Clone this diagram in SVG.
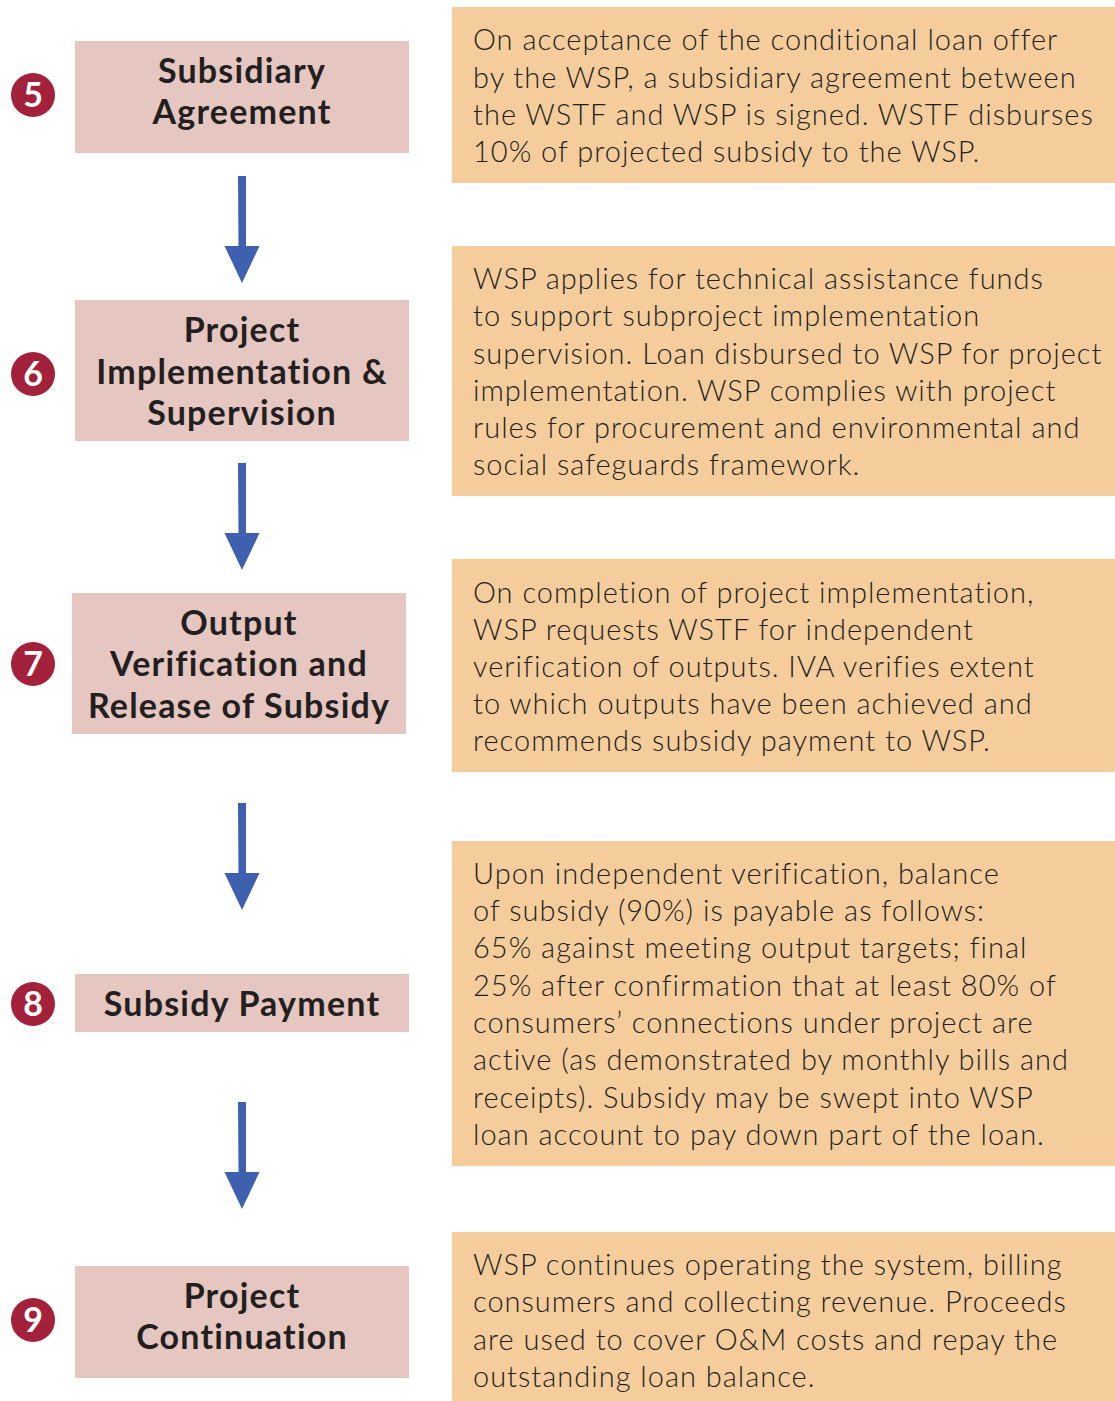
<svg xmlns="http://www.w3.org/2000/svg" width="1115" height="1401" viewBox="0 0 1115 1401">
<defs>
<style>
.step{fill:#E5C6C0}
.desc{fill:#F5CD9C}
.num{fill:#A3213A}
.numt{fill:#fff;font-family:Lato,"Liberation Sans",sans-serif;font-weight:700;font-size:34px;text-anchor:middle}
.head{fill:#231f20;font-family:Lato,"Liberation Sans",sans-serif;font-weight:700;font-size:34px;letter-spacing:1.2px;text-anchor:middle}
.body{fill:#231f20;font-family:Lato,"Liberation Sans",sans-serif;font-weight:300;font-size:29px;letter-spacing:1px}
.arr{fill:#3F60AE}
</style>
</defs>
<rect width="1115" height="1401" fill="#fff"/>
<g id="connectors">
<path class="arr" d="M238 176h8v70h13.5l-17.5 37l-17.5-37h14z"/>
<path class="arr" d="M238 463h8v70h13.5l-17.5 37l-17.5-37h14z"/>
<path class="arr" d="M238 803h8v70h13.5l-17.5 37l-17.5-37h14z"/>
<path class="arr" d="M238 1102h8v70h13.5l-17.5 37l-17.5-37h14z"/>
</g>
<g id="step5">
<circle class="num" cx="33" cy="95" r="22"/><text class="numt" x="33" y="107">5</text>
<rect class="step" x="75" y="41" width="334" height="112"/>
<text class="head" x="242" y="83">Subsidiary</text>
<text class="head" x="242" y="124">Agreement</text>
</g>
<g id="desc5">
<rect class="desc" x="452" y="7" width="663" height="176"/>
<text class="body" x="473" y="50">On acceptance of the conditional loan offer</text>
<text class="body" x="473" y="88">by the WSP, a subsidiary agreement between</text>
<text class="body" x="473" y="125">the WSTF and WSP is signed. WSTF disburses</text>
<text class="body" x="473" y="162">10% of projected subsidy to the WSP.</text>
</g>
<g id="step6">
<circle class="num" cx="33" cy="374" r="22"/><text class="numt" x="33" y="386">6</text>
<rect class="step" x="75" y="300" width="334" height="141"/>
<text class="head" x="242" y="342">Project</text>
<text class="head" x="242" y="384">Implementation &amp;</text>
<text class="head" x="242" y="425">Supervision</text>
</g>
<g id="desc6">
<rect class="desc" x="452" y="246" width="663" height="250"/>
<text class="body" x="473" y="289">WSP applies for technical assistance funds</text>
<text class="body" x="473" y="326">to support subproject implementation</text>
<text class="body" x="473" y="364">supervision. Loan disbursed to WSP for project</text>
<text class="body" x="473" y="401">implementation. WSP complies with project</text>
<text class="body" x="473" y="438">rules for procurement and environmental and</text>
<text class="body" x="473" y="475">social safeguards framework.</text>
</g>
<g id="step7">
<circle class="num" cx="33" cy="664" r="22"/><text class="numt" x="33" y="676">7</text>
<rect class="step" x="72" y="593" width="334" height="141"/>
<text class="head" x="239" y="635">Output</text>
<text class="head" x="239" y="676">Verification and</text>
<text class="head" x="239" y="718">Release of Subsidy</text>
</g>
<g id="desc7">
<rect class="desc" x="452" y="559" width="663" height="213"/>
<text class="body" x="473" y="603">On completion of project implementation,</text>
<text class="body" x="473" y="640">WSP requests WSTF for independent</text>
<text class="body" x="473" y="677">verification of outputs. IVA verifies extent</text>
<text class="body" x="473" y="714">to which outputs have been achieved and</text>
<text class="body" x="473" y="751">recommends subsidy payment to WSP.</text>
</g>
<g id="step8">
<circle class="num" cx="33" cy="1004" r="22"/><text class="numt" x="33" y="1016">8</text>
<rect class="step" x="75" y="974" width="334" height="58"/>
<text class="head" x="242" y="1016">Subsidy Payment</text>
</g>
<g id="desc8">
<rect class="desc" x="452" y="841" width="663" height="325"/>
<text class="body" x="473" y="884">Upon independent verification, balance</text>
<text class="body" x="473" y="921">of subsidy (90%) is payable as follows:</text>
<text class="body" x="473" y="958">65% against meeting output targets; final</text>
<text class="body" x="473" y="996">25% after confirmation that at least 80% of</text>
<text class="body" x="473" y="1033">consumers’ connections under project are</text>
<text class="body" x="473" y="1070">active (as demonstrated by monthly bills and</text>
<text class="body" x="473" y="1108">receipts). Subsidy may be swept into WSP</text>
<text class="body" x="473" y="1145">loan account to pay down part of the loan.</text>
</g>
<g id="step9">
<circle class="num" cx="33" cy="1320" r="22"/><text class="numt" x="33" y="1332">9</text>
<rect class="step" x="75" y="1266" width="334" height="112"/>
<text class="head" x="242" y="1308">Project</text>
<text class="head" x="242" y="1349">Continuation</text>
</g>
<g id="desc9">
<rect class="desc" x="452" y="1232" width="663" height="169"/>
<text class="body" x="473" y="1275">WSP continues operating the system, billing</text>
<text class="body" x="473" y="1312">consumers and collecting revenue. Proceeds</text>
<text class="body" x="473" y="1350">are used to cover O&amp;M costs and repay the</text>
<text class="body" x="473" y="1387">outstanding loan balance.</text>
</g>
</svg>
